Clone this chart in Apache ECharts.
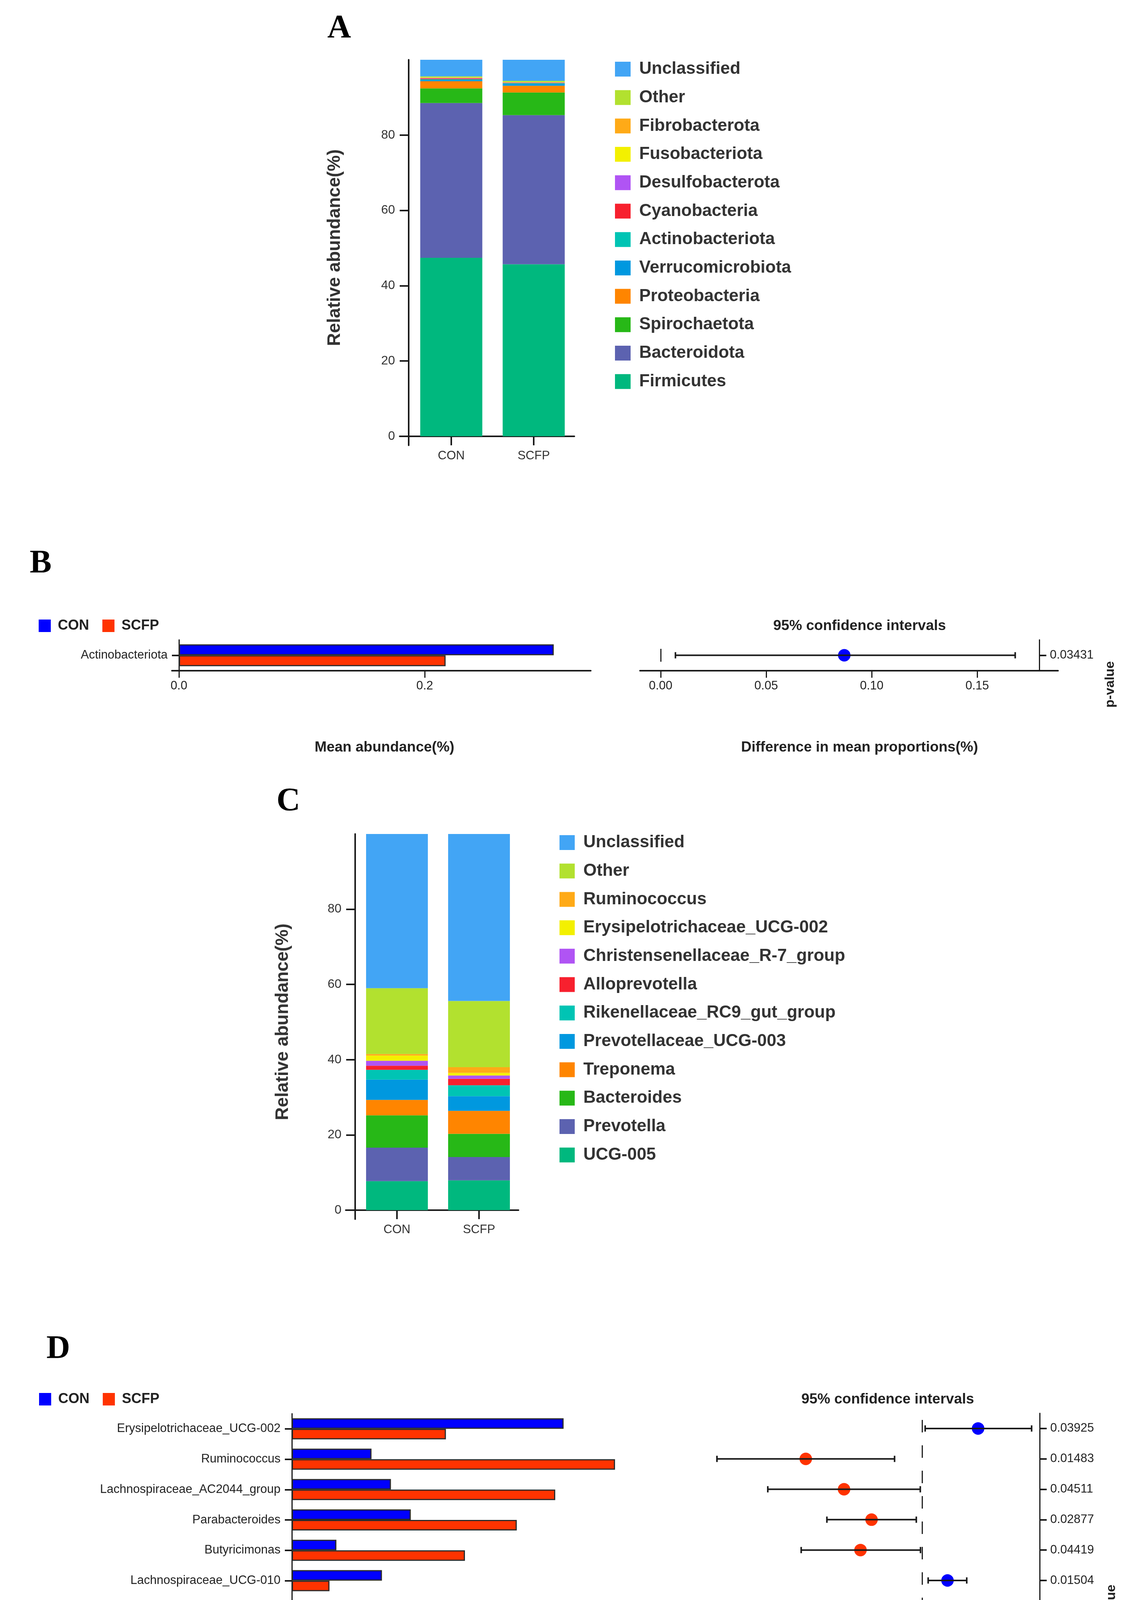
<!DOCTYPE html>
<html><head><meta charset="utf-8">
<script src="https://cdn.jsdelivr.net/npm/echarts@6.0.0/dist/echarts.min.js"></script>
<style>html,body{margin:0;padding:0;background:#fff}#c{width:2928px;height:4783px}</style>
</head><body><div id="c"></div>
<script>
// ---------------- DATA ----------------
const groups = ['CON', 'SCFP'];

// Panel A (phylum level, bottom -> top)
const phylumNames = ['Firmicutes','Bacteroidota','Spirochaetota','Proteobacteria','Verrucomicrobiota','Actinobacteriota','Cyanobacteria','Desulfobacterota','Fusobacteriota','Fibrobacterota','Other','Unclassified'];
const phylumCON  = [47.4, 41.1, 3.9, 1.9, 0.3, 0.25, 0.2, 0.1, 0.05, 0.1, 0.3, 4.4];
const phylumSCFP = [45.7, 39.6, 6.0, 1.8, 0.5, 0.2, 0.1, 0.05, 0.05, 0.1, 0.3, 5.6];

// Panel C (genus level, bottom -> top)
const genusNames = ['UCG-005','Prevotella','Bacteroides','Treponema','Prevotellaceae_UCG-003','Rikenellaceae_RC9_gut_group','Alloprevotella','Christensenellaceae_R-7_group','Erysipelotrichaceae_UCG-002','Ruminococcus','Other','Unclassified'];
const genusCON  = [7.7, 8.9, 8.6, 4.1, 5.4, 2.6, 1.1, 1.3, 1.4, 0.4, 17.5, 41.0];
const genusSCFP = [7.9, 6.2, 6.2, 6.1, 3.9, 2.9, 1.7, 0.9, 0.7, 1.5, 17.6, 44.4];

const stackColors = ['#00B87E','#5C62B0','#27B817','#FF8500','#0098DF','#00C4B4','#F7202E','#B054F4','#F3F000','#FFAA17','#B2E12F','#42A5F5'];
const relTicks = [0, 20, 40, 60, 80];

// Panel B
const bTaxa = ['Actinobacteriota'];
const bCON  = [0.305];
const bSCFP = [0.217];
const bDiff = [0.087];
const bLow  = [0.007];
const bHigh = [0.168];
const bP    = ['0.03431'];
const bMeanTicks = [0, 0.2];
const bDiffTicks = [0, 0.05, 0.10, 0.15];

// Panel D
const dTaxa = ['Erysipelotrichaceae_UCG-002','Ruminococcus','Lachnospiraceae_AC2044_group','Parabacteroides','Butyricimonas','Lachnospiraceae_UCG-010','Oscillibacter','Negativibacillus','Olsenella','Anaeroplasma','Ruminococcus_gauvreauii_group'];
const dCON  = [1.30, 0.381, 0.474, 0.569, 0.213, 0.431, 0.296, 0.302, 0.202, 0.267, 0.208];
const dSCFP = [0.737, 1.546, 1.26, 1.076, 0.828, 0.18, 0.154, 0.119, 0.126, 0.044, 0.040];
const dDiff = [0.560, -1.169, -0.785, -0.509, -0.620, 0.253, 0.139, 0.185, 0.075, 0.222, 0.167];
const dLow  = [0.029, -2.06, -1.55, -0.957, -1.215, 0.059, 0.059, 0.029, 0.016, 0.010, 0.031];
const dHigh = [1.097, -0.278, -0.02, -0.060, -0.018, 0.446, 0.222, 0.339, 0.139, 0.443, 0.302];
const dP    = ['0.03925','0.01483','0.04511','0.02877','0.04419','0.01504','0.00354','0.02417','0.02096','0.04428','0.01910'];
const dMeanTicks = [0, 1];
const dDiffTicks = [-2, -1, 0, 1];

// ---------------- STYLE ----------------
const SANS = "'Liberation Sans', Arial, Helvetica, sans-serif";
const SERIF = "'Liberation Serif', 'Times New Roman', serif";
const CON_C = '#0000FF', SCFP_C = '#FF3300';
const AX = '#1a1a1a';

function stackRows(con, scfp) {
  const out = []; let bc = 0, bs = 0;
  for (let i = 0; i < con.length; i++) {
    out.push([[0, bc, bc + con[i]], [1, bs, bs + scfp[i]]]);
    bc += con[i]; bs += scfp[i];
  }
  return out;
}
function stackRender(params, api) {
  const x = api.value(0);
  const p0 = api.coord([x, api.value(1)]);
  const p1 = api.coord([x, api.value(2)]);
  const w = api.size([0.753, 0])[0];
  return { type: 'rect', shape: { x: p0[0] - w / 2, y: p1[1], width: w, height: p0[1] - p1[1] },
           style: { fill: api.visual('color') } };
}
function errRender(params, api) {
  const y = api.value(2);
  const a = api.coord([api.value(0), y]);
  const b = api.coord([api.value(1), y]);
  const h = 8;
  const st = { stroke: '#1a1a1a', lineWidth: 4 };
  return { type: 'group', children: [
    { type: 'line', shape: { x1: a[0], y1: a[1], x2: b[0], y2: b[1] }, style: st },
    { type: 'line', shape: { x1: a[0], y1: a[1] - h, x2: a[0], y2: a[1] + h }, style: st },
    { type: 'line', shape: { x1: b[0], y1: b[1] - h, x2: b[0], y2: b[1] + h }, style: st }
  ]};
}

const series = [];
const rowsA = stackRows(phylumCON, phylumSCFP);
phylumNames.forEach((n, i) => series.push({
  name: n, type: 'custom', xAxisIndex: 0, yAxisIndex: 0, renderItem: stackRender,
  encode: { x: 0, y: [1, 2] }, itemStyle: { color: stackColors[i] }, data: rowsA[i]
}));
const rowsC = stackRows(genusCON, genusSCFP);
genusNames.forEach((n, i) => series.push({
  name: n, type: 'custom', xAxisIndex: 3, yAxisIndex: 3, renderItem: stackRender,
  encode: { x: 0, y: [1, 2] }, itemStyle: { color: stackColors[i] }, data: rowsC[i]
}));

const barStyle = c => ({ color: c, borderColor: '#2b2b2b', borderWidth: 3 });
series.push({ name: 'CON', type: 'bar', xAxisIndex: 1, yAxisIndex: 1, barWidth: 28, barGap: '0%', itemStyle: barStyle(CON_C), data: bCON });
series.push({ name: 'SCFP', type: 'bar', xAxisIndex: 1, yAxisIndex: 1, barWidth: 28, barGap: '0%', itemStyle: barStyle(SCFP_C), data: bSCFP });
series.push({ name: 'CON', type: 'bar', xAxisIndex: 4, yAxisIndex: 4, barWidth: 27, barGap: '0%', itemStyle: barStyle(CON_C), data: dCON });
series.push({ name: 'SCFP', type: 'bar', xAxisIndex: 4, yAxisIndex: 4, barWidth: 27, barGap: '0%', itemStyle: barStyle(SCFP_C), data: dSCFP });

function ciSeries(xi, yi, diff, low, high, dash, dashOffset) {
  return [
    { type: 'scatter', xAxisIndex: xi, yAxisIndex: yi, symbolSize: 32, z: 2,
      itemStyle: { opacity: 1, color: p => p.value[0] >= 0 ? CON_C : SCFP_C },
      data: diff.map((v, i) => [v, i]),
      markLine: { silent: true, symbol: ['none', 'none'], label: { show: false },
        lineStyle: { color: '#222', width: 3, type: dash, dashOffset: dashOffset },
        data: [{ xAxis: 0 }] } },
    { type: 'custom', xAxisIndex: xi, yAxisIndex: yi, z: 3, renderItem: errRender,
      encode: { x: [0, 1], y: 2 }, data: low.map((v, i) => [v, high[i], i]) }
  ];
}
series.push(...ciSeries(2, 2, bDiff, bLow, bHigh, [33, 100], 110));
series.push(...ciSeries(5, 5, dDiff, dLow, dHigh, [32, 33], 48));

// ---------------- AXES ----------------
function groupX(grid, min, max, offset) {
  return { type: 'value', gridIndex: grid, min: min, max: max, offset: offset,
    axisLine: { show: true, onZero: false, lineStyle: { color: AX, width: 4 } },
    axisTick: { show: true, customValues: [0, 1], length: 23, lineStyle: { color: AX, width: 4 } },
    axisLabel: { customValues: [0, 1], formatter: v => groups[Math.round(v)], margin: 35, fontSize: 31, color: '#333', fontFamily: SANS },
    splitLine: { show: false } };
}
function relY(grid, offset) {
  return { type: 'value', gridIndex: grid, min: -2.4, max: 100, offset: offset,
    axisLine: { show: true, onZero: false, lineStyle: { color: AX, width: 4 } },
    axisTick: { show: true, customValues: relTicks, length: 23, lineStyle: { color: AX, width: 4 } },
    axisLabel: { customValues: relTicks, margin: 35, fontSize: 32, color: '#333', fontFamily: SANS },
    splitLine: { show: false } };
}
function meanX(grid, min, max, ticks, digits) {
  return { type: 'value', gridIndex: grid, min: min, max: max,
    axisLine: { show: true, onZero: false, lineStyle: { color: AX, width: 4 } },
    axisTick: { show: true, customValues: ticks, length: 18, lineStyle: { color: AX, width: 3 } },
    axisLabel: { customValues: ticks, formatter: v => v.toFixed(digits), margin: 24, fontSize: 31, color: '#222', fontFamily: SANS },
    splitLine: { show: false } };
}
function taxaY(grid, data, offset) {
  return { type: 'category', gridIndex: grid, data: data, inverse: true, offset: offset,
    axisLine: { show: true, onZero: false, lineStyle: { color: AX, width: 3 } },
    axisTick: { show: true, alignWithLabel: true, length: 18, lineStyle: { color: AX, width: 4 } },
    axisLabel: { margin: 29, fontSize: 31, color: '#222', fontFamily: SANS },
    splitLine: { show: false } };
}
function pY(grid, data, offset) {
  return { type: 'category', gridIndex: grid, data: data, inverse: true, position: 'right', offset: offset,
    axisLine: { show: true, onZero: false, lineStyle: { color: AX, width: 3 } },
    axisTick: { show: true, alignWithLabel: true, length: 18, lineStyle: { color: AX, width: 4 } },
    axisLabel: { margin: 27, fontSize: 31, color: '#222', fontFamily: SANS },
    splitLine: { show: false } };
}

const xAxis = [
  groupX(0, -0.6256, 1.4929, -23.1),
  meanX(1, -0.0057, 0.3351, bMeanTicks, 1),
  meanX(2, -0.0098, 0.1883, bDiffTicks, 2),
  groupX(3, -0.624, 1.481, -23.1),
  meanX(4, -0.0355, 1.7009, dMeanTicks, 0),
  meanX(5, -2.26, 1.37, dDiffTicks, 0)
];
const yAxis = [
  relY(0, -23),
  taxaY(1, bTaxa, -18),
  pY(2, bP, -48),
  relY(3, -24),
  taxaY(4, dTaxa, -19),
  pY(5, dP, -49)
];

function stackLegend(names, left, top, iw) {
  return { data: names.slice().reverse(), orient: 'vertical', left: left, top: top, icon: 'rect',
    itemWidth: iw, itemHeight: 38, itemGap: 28.7, selectedMode: false,
    itemStyle: { borderWidth: 0 },
    textStyle: { fontSize: 44, fontWeight: 'bold', color: '#333', fontFamily: SANS, lineHeight: 44, padding: [0, 0, 0, 17] } };
}
function groupLegend(left, top) {
  return { data: groups, orient: 'horizontal', left: left, top: top, icon: 'rect',
    itemWidth: 31, itemHeight: 32, itemGap: 34, selectedMode: false,
    itemStyle: { borderWidth: 0 },
    textStyle: { fontSize: 36, fontWeight: 'bold', color: '#222', fontFamily: SANS, lineHeight: 36, padding: [0, 0, 0, 13] } };
}

function txt(text, x, y, font, rot, color) {
  return { type: 'text', x: x, y: y, rotation: rot || 0, silent: true,
    style: { text: text, font: font, fill: color || '#333', align: 'center', verticalAlign: 'middle', textAlign: 'center', textVerticalAlign: 'middle' } };
}
const letterFont = "bold 84px " + SERIF;
const titleFont = "bold 46px " + SANS;
const subFont = "bold 37px " + SANS;
const graphic = [
  txt('A', 868, 74, letterFont, 0, '#000'),
  txt('B', 104, 1444, letterFont, 0, '#000'),
  txt('C', 738, 2053, letterFont, 0, '#000'),
  txt('D', 149, 3455, letterFont, 0, '#000'),
  txt('Relative abundance(%)', 857, 634, titleFont, Math.PI / 2),
  txt('Relative abundance(%)', 724, 2616, titleFont, Math.PI / 2),
  txt('Mean abundance(%)', 984, 1914, subFont, 0, '#222'),
  txt('Difference in mean proportions(%)', 2200, 1914, subFont, 0, '#222'),
  txt('95% confidence intervals', 2200, 1603, subFont, 0, '#222'),
  txt('p-value', 2842, 1752, "bold 34px " + SANS, Math.PI / 2, '#222'),
  txt('Mean abundance(%)', 1203, 4672, subFont, 0, '#222'),
  txt('Difference in mean proportions(%)', 2272, 4672, subFont, 0, '#222'),
  txt('95% confidence intervals', 2272, 3583, subFont, 0, '#222'),
  txt('p-value', 2845, 4116, "bold 34px " + SANS, Math.PI / 2, '#222')
];

const option = {
  animation: false,
  backgroundColor: '#ffffff',
  textStyle: { fontFamily: SANS },
  grid: [
    { left: 1023, top: 153, width: 447, height: 987 },
    { left: 440, top: 1638, width: 1072, height: 79 },
    { left: 1638, top: 1638, width: 1070, height: 79 },
    { left: 885, top: 2135, width: 442, height: 986 },
    { left: 728, top: 3619, width: 929, height: 855 },
    { left: 1784, top: 3618, width: 926, height: 856 }
  ],
  xAxis: xAxis,
  yAxis: yAxis,
  legend: [
    stackLegend(phylumNames, 1569, 150, 40),
    stackLegend(genusNames, 1427, 2130, 39),
    groupLegend(94, 1579),
    groupLegend(95, 3559)
  ],
  graphic: graphic,
  series: series
};

const chart = echarts.init(document.getElementById('c'), null, { renderer: 'canvas' });
chart.setOption(option);
</script></body></html>
